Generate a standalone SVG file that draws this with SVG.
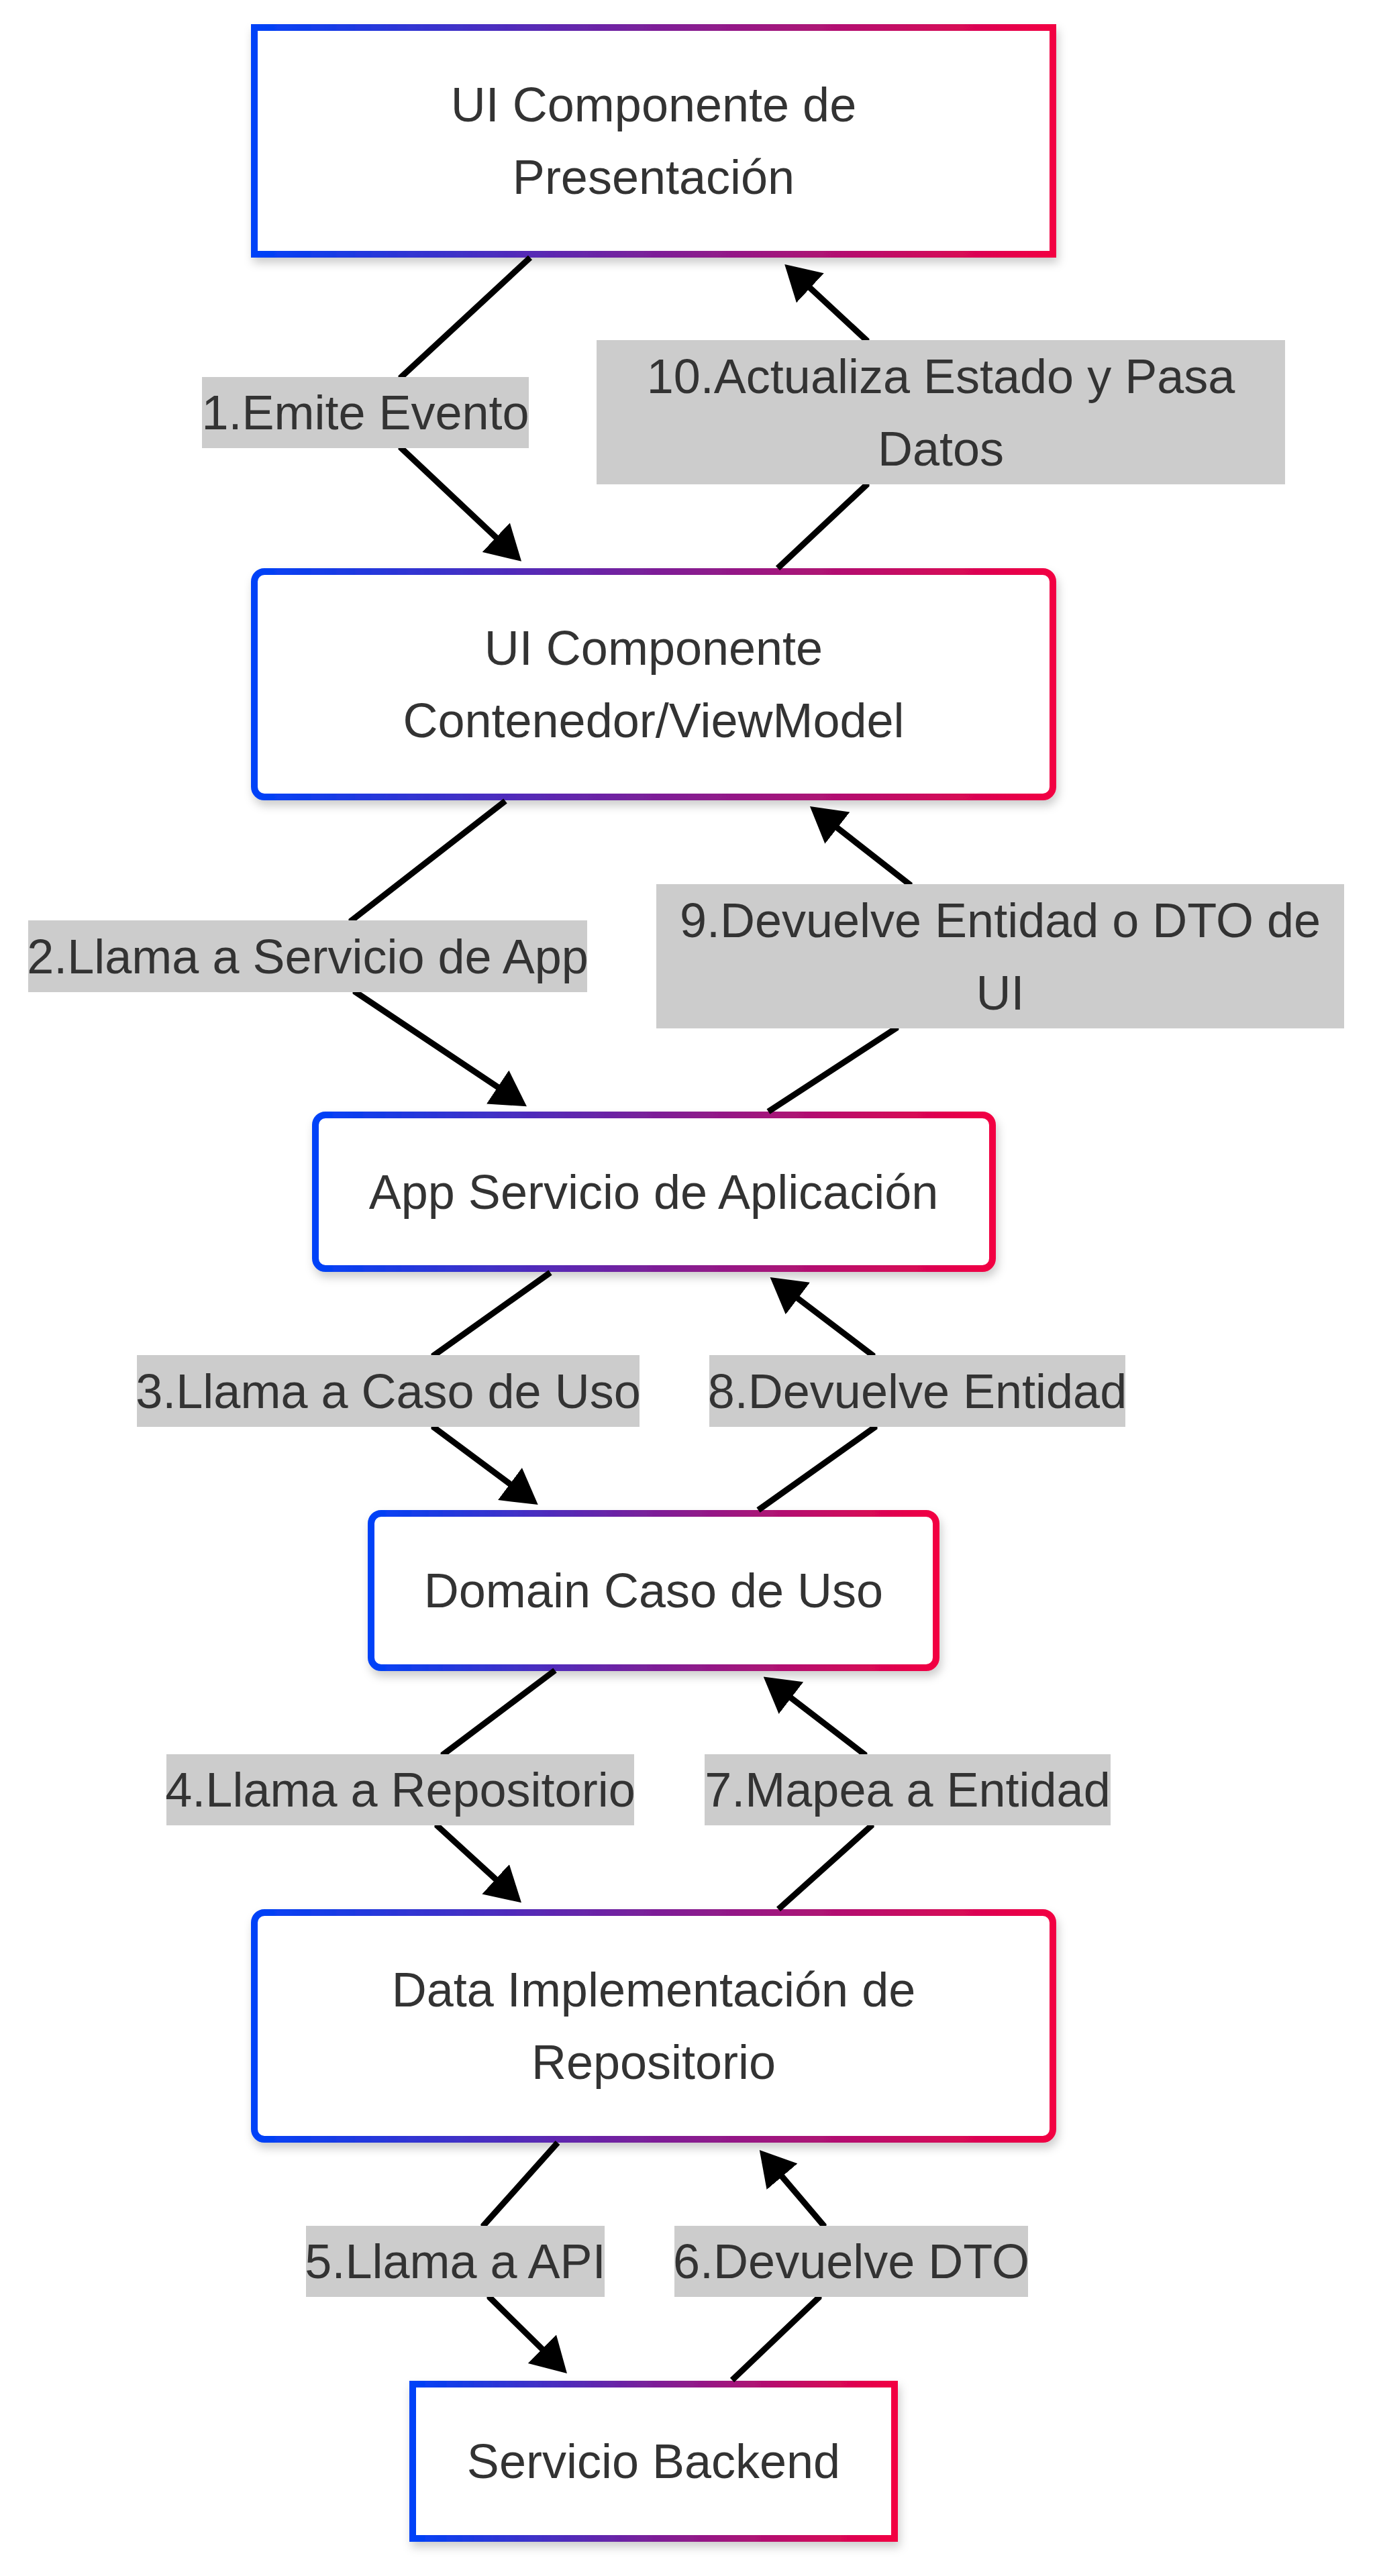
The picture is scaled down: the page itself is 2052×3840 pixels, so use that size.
<svg xmlns="http://www.w3.org/2000/svg" width="2052" height="3840" viewBox="0 0 2052 3840">
<style>
.node rect{fill:#ffffff;stroke:url(#grad);stroke-width:10;filter:url(#shadow)}
.node text,.label text{font-family:"Liberation Sans",Arial,sans-serif;font-size:72px;fill:#333333;text-anchor:middle}
.label rect{fill:#cccccc;stroke:none}
.edge{fill:none;stroke:#000000;stroke-width:9;marker-end:url(#arrow)}
</style>
<defs>
<linearGradient id="grad" x1="0" y1="0" x2="1" y2="0">
<stop offset="0" stop-color="#0042f8"/>
<stop offset="0.5" stop-color="#7c1f98"/>
<stop offset="1" stop-color="#f20042"/>
</linearGradient>
<filter id="shadow" x="-10%" y="-10%" width="120%" height="130%">
<feDropShadow dx="3" dy="8" stdDeviation="7" flood-color="#000000" flood-opacity="0.2"/>
</filter>
<marker id="arrow" markerUnits="userSpaceOnUse" markerWidth="52" markerHeight="60" refX="10" refY="30" orient="auto" viewBox="0 0 52 60">
<path d="M0,0 L52,30 L0,60 z" fill="#000000"/>
</marker>
</defs>
<g id="nodes">
<g id="n1" class="node"><rect x="379" y="41" width="1190" height="338"/><text x="974" y="181">UI Componente de</text><text x="974" y="289">Presentación</text></g>
<g id="n2" class="node"><rect x="379" y="852" width="1190" height="336" rx="15"/><text x="974" y="991">UI Componente</text><text x="974" y="1099">Contenedor/ViewModel</text></g>
<g id="n3" class="node"><rect x="470" y="1662" width="1009" height="229" rx="15"/><text x="974" y="1802">App Servicio de Aplicación</text></g>
<g id="n4" class="node"><rect x="553" y="2256" width="842" height="230" rx="15"/><text x="974" y="2396">Domain Caso de Uso</text></g>
<g id="n5" class="node"><rect x="379" y="2851" width="1190" height="338" rx="15"/><text x="974" y="2991">Data Implementación de</text><text x="974" y="3099">Repositorio</text></g>
<g id="n6" class="node"><rect x="615" y="3554" width="718" height="230"/><text x="974" y="3694">Servicio Backend</text></g>
</g>
<g id="connectors">
<path class="edge" d="M790,384 L598,562 L598,668 L746.5,808"/>
<path class="edge" d="M1159,847 L1291,723 L1291,507 L1200,422.5"/>
<path class="edge" d="M753,1194 L524,1372 L530,1479 L750,1626"/>
<path class="edge" d="M1145,1657 L1335,1533 L1355,1318 L1240,1228"/>
<path class="edge" d="M820,1897 L647,2020 L647,2128 L768,2218"/>
<path class="edge" d="M1130,2251 L1303,2128 L1300,2020 L1181,1929.5"/>
<path class="edge" d="M827,2490 L661,2615 L652,2722 L746,2808"/>
<path class="edge" d="M1160,2846 L1298,2722 L1288,2615 L1171,2525"/>
<path class="edge" d="M831,3194 L721,3317 L730,3425 L815,3508.6"/>
<path class="edge" d="M1091,3548 L1220,3425 L1227,3317 L1159,3237"/>
</g>
<g id="labels">
<g class="label"><rect x="301" y="562" width="487" height="106"/><text x="544.5" y="640">1.Emite Evento</text></g>
<g class="label"><rect x="889" y="507" width="1026" height="215"/><text x="1402" y="586">10.Actualiza Estado y Pasa</text><text x="1402" y="694">Datos</text></g>
<g class="label"><rect x="42" y="1372" width="833" height="107"/><text x="458.5" y="1451">2.Llama a Servicio de App</text></g>
<g class="label"><rect x="978" y="1318" width="1025" height="215"/><text x="1490.5" y="1397">9.Devuelve Entidad o DTO de</text><text x="1490.5" y="1505">UI</text></g>
<g class="label"><rect x="204" y="2020" width="749" height="107"/><text x="578.5" y="2099">3.Llama a Caso de Uso</text></g>
<g class="label"><rect x="1057" y="2020" width="620" height="107"/><text x="1367" y="2099">8.Devuelve Entidad</text></g>
<g class="label"><rect x="248" y="2615" width="697" height="106"/><text x="596.5" y="2693">4.Llama a Repositorio</text></g>
<g class="label"><rect x="1050" y="2615" width="605" height="106"/><text x="1352.5" y="2693">7.Mapea a Entidad</text></g>
<g class="label"><rect x="456" y="3318" width="445" height="106"/><text x="678.5" y="3396">5.Llama a API</text></g>
<g class="label"><rect x="1005" y="3318" width="527" height="106"/><text x="1268.5" y="3396">6.Devuelve DTO</text></g>
</g>
</svg>
